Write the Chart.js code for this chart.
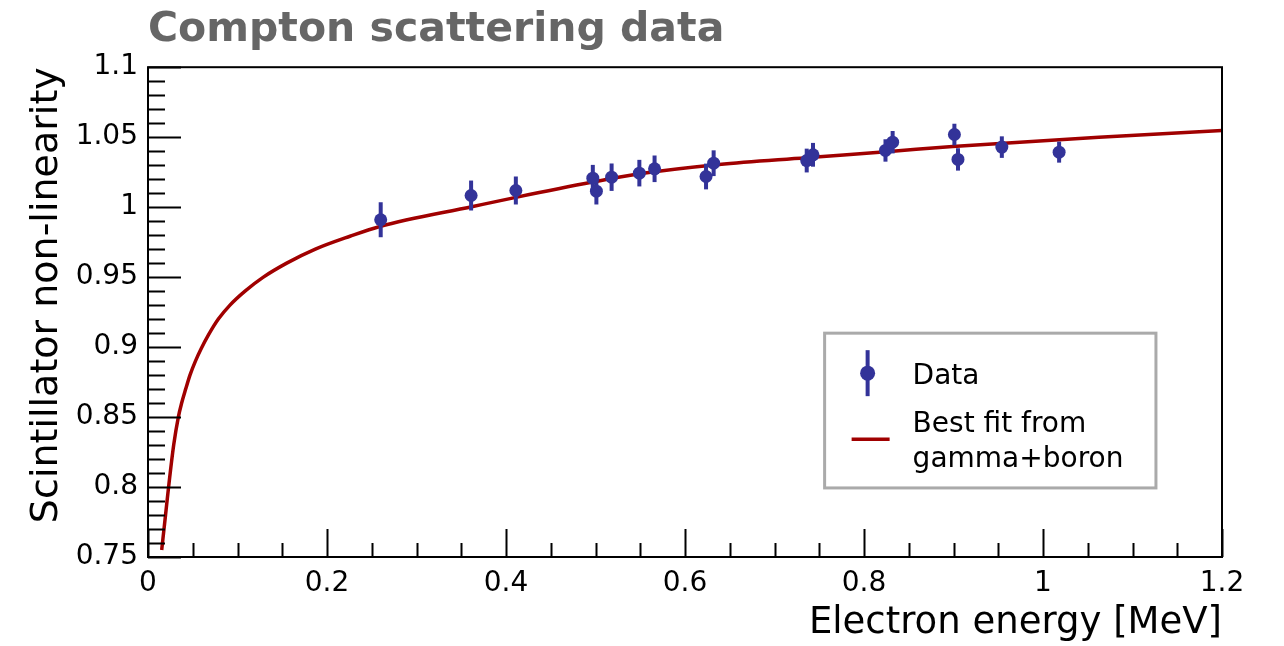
<!DOCTYPE html>
<html>
<head>
<meta charset="utf-8">
<script src="https://cdn.jsdelivr.net/npm/chart.js@4"></script>
<style>
  html, body { margin: 0; padding: 0; background: #fff; }
  canvas { display: block; }
</style>
</head>
<body>
<canvas id="comptonChart" width="1284" height="646"></canvas>
<script>
//============================================= Data =============================================//
// measured points (electron energy in MeV, non-linearity, error)
const energy = [0.260, 0.361, 0.411, 0.497, 0.501, 0.518, 0.549, 0.566, 0.6235, 0.632,
                0.736, 0.743, 0.824, 0.832, 0.901, 0.905, 0.954, 1.018];
const nonlin = [0.991, 1.0083, 1.0119, 1.0207, 1.0114, 1.0214, 1.0243, 1.0274, 1.0219, 1.0314,
                1.0333, 1.0374, 1.0405, 1.0464, 1.0519, 1.0341, 1.0429, 1.0393];
const errs = [0.0125, 0.0107, 0.010, 0.0095, 0.0095, 0.0098, 0.0095, 0.0095, 0.0092, 0.0092,
              0.0085, 0.0085, 0.008, 0.008, 0.0077, 0.008, 0.0077, 0.0075];

// best fit curve
const fitE = [0.0153, 0.0196, 0.0230, 0.0287, 0.0339, 0.0376, 0.0421, 0.0469, 0.053, 0.0595,
              0.0674, 0.0786, 0.0916, 0.1084, 0.1289, 0.155, 0.187, 0.2257, 0.259, 0.363,
              0.411, 0.497, 0.549, 0.638, 0.735, 0.832, 0.899, 1.0625, 1.2];
const fitY = [0.755, 0.780, 0.800, 0.830, 0.850, 0.860, 0.870, 0.880, 0.890, 0.899,
              0.9085, 0.920, 0.930, 0.940, 0.950, 0.960, 0.970, 0.9792, 0.9862, 1.0005,
              1.007, 1.0179, 1.0238, 1.0305, 1.0353, 1.0400, 1.0434, 1.0500, 1.0548];

const legendLabels = ['Data', 'Best fit from', 'gamma+boron'];
const titleText = 'Compton scattering data';
const xTitle = 'Electron energy [MeV]';
const yTitle = 'Scintillator non-linearity';

const dataColor = '#333399';
const fitColor = '#a00000';
const fontFamily = '"DejaVu Sans", sans-serif';

//============================================= Plugins =============================================//
// error bars, drawn right before the data markers
const errorBars = {
    id: 'errorBars',
    beforeDatasetDraw(chart, args) {
        if (args.index !== 0) return;
        const { ctx, scales: { x, y } } = chart;
        ctx.save();
        ctx.strokeStyle = dataColor;
        ctx.lineWidth = 4;
        energy.forEach((e, i) => {
            const px = x.getPixelForValue(e);
            ctx.beginPath();
            ctx.moveTo(px, y.getPixelForValue(nonlin[i] - errs[i]));
            ctx.lineTo(px, y.getPixelForValue(nonlin[i] + errs[i]));
            ctx.stroke();
        });
        ctx.restore();
    }
};

// ROOT style frame with inward ticks
const rootFrame = {
    id: 'rootFrame',
    afterDatasetsDraw(chart) {
        const { ctx, chartArea: a, scales: { x, y } } = chart;
        ctx.save();
        ctx.strokeStyle = '#000';
        ctx.lineWidth = 2;
        ctx.strokeRect(a.left, a.top, a.right - a.left, a.bottom - a.top);

        ctx.beginPath();
        // y ticks: major 0.05, minor 0.01
        for (let k = 0; k <= 35; k++) {
            const py = Math.round(y.getPixelForValue(0.75 + k * 0.01)) + 0.5;
            const len = (k % 5 === 0) ? 33 : 17;
            ctx.moveTo(a.left, py);
            ctx.lineTo(a.left + len, py);
        }
        // x ticks: major 0.2, minor 0.05
        for (let k = 0; k <= 24; k++) {
            const px = Math.round(x.getPixelForValue(k * 0.05)) + 0.5;
            const len = (k % 4 === 0) ? 28 : 14;
            ctx.moveTo(px, a.bottom);
            ctx.lineTo(px, a.bottom - len);
        }
        ctx.stroke();
        ctx.restore();
    }
};

// legend box like the ROOT TLegend
const rootLegend = {
    id: 'rootLegend',
    afterDraw(chart) {
        const { ctx, chartArea: a } = chart;
        const w = a.right - a.left, h = a.bottom - a.top;
        const bx = a.left + 0.630 * w, by = a.top + 0.543 * h;
        const bw = 0.3085 * w, bh = 0.316 * h;

        ctx.save();
        ctx.fillStyle = '#fff';
        ctx.fillRect(bx, by, bw, bh);
        ctx.strokeStyle = '#aaaaaa';
        ctx.lineWidth = 3;
        ctx.strokeRect(bx, by, bw, bh);

        // data entry
        ctx.strokeStyle = dataColor;
        ctx.lineWidth = 4;
        ctx.beginPath();
        ctx.moveTo(bx + 43, by + 17);
        ctx.lineTo(bx + 43, by + 63);
        ctx.stroke();
        ctx.fillStyle = dataColor;
        ctx.beginPath();
        ctx.arc(bx + 43, by + 40, 7.5, 0, Math.PI * 2);
        ctx.fill();

        // fit entry
        ctx.strokeStyle = fitColor;
        ctx.lineWidth = 3.5;
        ctx.beginPath();
        ctx.moveTo(bx + 27, by + 106);
        ctx.lineTo(bx + 65, by + 106);
        ctx.stroke();

        ctx.fillStyle = '#000';
        ctx.font = '28px ' + fontFamily;
        ctx.textBaseline = 'middle';
        ctx.textAlign = 'left';
        ctx.fillText(legendLabels[0], bx + 88, by + 44);
        ctx.fillText(legendLabels[1], bx + 88, by + 92);
        ctx.fillText(legendLabels[2], bx + 88, by + 127);
        ctx.restore();
    }
};

//============================================= Chart =============================================//
const fmt = v => String(parseFloat(Number(v).toFixed(2)));

new Chart(document.getElementById('comptonChart'), {
    type: 'scatter',
    data: {
        datasets: [
            {
                label: legendLabels[0],
                data: energy.map((e, i) => ({ x: e, y: nonlin[i] })),
                backgroundColor: dataColor,
                borderColor: dataColor,
                pointRadius: 6.5,
                pointBorderWidth: 0,
                showLine: false
            },
            {
                label: legendLabels[1] + ' ' + legendLabels[2],
                data: fitE.map((e, i) => ({ x: e, y: fitY[i] })),
                borderColor: fitColor,
                borderWidth: 3.5,
                pointRadius: 0,
                showLine: true,
                cubicInterpolationMode: 'monotone'
            }
        ]
    },
    options: {
        responsive: false,
        animation: false,
        layout: { padding: { left: 0, right: 62, top: 0, bottom: 0 } },
        plugins: {
            legend: { display: false },
            tooltip: { enabled: false },
            title: {
                display: true,
                text: titleText,
                align: 'start',
                fullSize: false,
                color: '#666666',
                font: { family: fontFamily, size: 41, weight: 'bold' },
                padding: { top: 6, bottom: 12 }
            }
        },
        scales: {
            x: {
                type: 'linear',
                min: 0,
                max: 1.2,
                grid: { display: false, drawTicks: false },
                border: { display: false },
                ticks: {
                    stepSize: 0.2,
                    padding: 10,
                    color: '#000',
                    maxRotation: 0,
                    font: { family: fontFamily, size: 28 },
                    callback: fmt
                },
                title: {
                    display: true,
                    text: xTitle,
                    align: 'end',
                    color: '#000',
                    font: { family: fontFamily, size: 37 },
                    padding: { top: 0, bottom: 0 }
                },
                afterFit(scale) { scale.height = 89; }
            },
            y: {
                type: 'linear',
                min: 0.75,
                max: 1.1,
                grid: { display: false, drawTicks: false },
                border: { display: false },
                ticks: {
                    stepSize: 0.05,
                    padding: 10,
                    color: '#000',
                    font: { family: fontFamily, size: 28 },
                    callback: fmt
                },
                title: {
                    display: true,
                    text: yTitle,
                    align: 'end',
                    color: '#000',
                    font: { family: fontFamily, size: 38 },
                    padding: { top: 24, bottom: 0 }
                },
                afterFit(scale) { scale.width = 148; }
            }
        }
    },
    plugins: [errorBars, rootFrame, rootLegend]
});
</script>
</body>
</html>
